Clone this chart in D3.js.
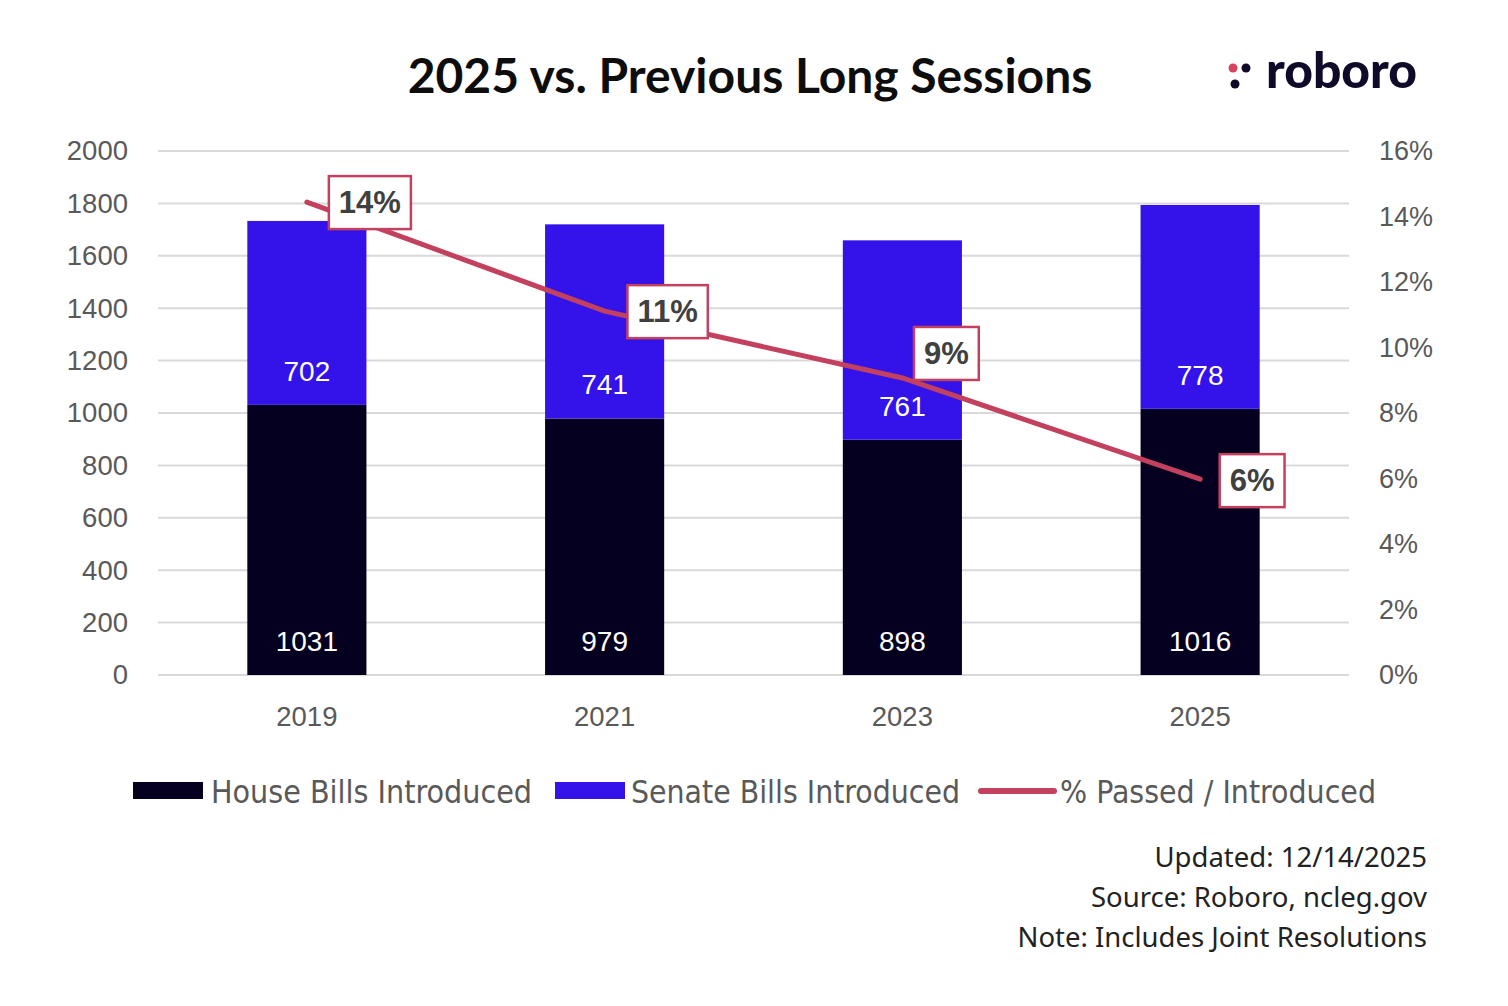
<!DOCTYPE html>
<html><head><meta charset="utf-8">
<script src="https://cdn.jsdelivr.net/npm/d3@7"></script>
<style>
html,body{margin:0;padding:0;background:#fff;}
svg{display:block;}
</style></head>
<body>
<svg id="chart" width="1508" height="1006"></svg>
<script>
const years = ["2019", "2021", "2023", "2025"];
const houseBills = [1031, 979, 898, 1016];
const senateBills = [702, 741, 761, 778];
const pctPassed = [0.1444, 0.1111, 0.0907, 0.0598];
const pctLabels = ["14%", "11%", "9%", "6%"];
const leftTicks = [0, 200, 400, 600, 800, 1000, 1200, 1400, 1600, 1800, 2000];
const rightTicks = [0, 0.02, 0.04, 0.06, 0.08, 0.10, 0.12, 0.14, 0.16];
const legendLabels = ["House Bills Introduced", "Senate Bills Introduced", "% Passed / Introduced"];
const footLines = ["Updated: 12/14/2025", "Source: Roboro, ncleg.gov", "Note: Includes Joint Resolutions"];

const C = {house:"#05001f", senate:"#3412ea", line:"#c4405f", grid:"#d9d9d9", axis:"#595959", label:"#404040"};
const svg = d3.select("#chart");
const m = {l:158, r:1349, t:151, b:675};

const x = d3.scaleBand().domain(years).range([m.l, m.r]).paddingInner(0.6).paddingOuter(0.3);
const y = d3.scaleLinear().domain([0, 2000]).range([m.b, m.t]);
const y2 = d3.scaleLinear().domain([0, 0.16]).range([m.b, m.t]);

// title
svg.append("text").attr("x", 750).attr("y", 93).attr("text-anchor","middle")
  .attr("font-family","Lato, 'Noto Sans', sans-serif").attr("font-weight",700)
  .attr("font-size",48).attr("fill","#0d0d0d").text("2025 vs. Previous Long Sessions");

// logo
const logo = svg.append("g");
logo.append("circle").attr("cx",1233).attr("cy",68).attr("r",4.5).attr("fill","#d8435f");
logo.append("circle").attr("cx",1246).attr("cy",68).attr("r",4.5).attr("fill","#0f0a2a");
logo.append("circle").attr("cx",1235).attr("cy",84).attr("r",4.5).attr("fill","#0f0a2a");
logo.append("text").attr("x",1266).attr("y",88)
  .attr("font-family","Lato, sans-serif").attr("font-weight",900).attr("font-size",50)
  .attr("textLength",151).attr("lengthAdjust","spacingAndGlyphs")
  .attr("fill","#0f0a2a").text("roboro");

// grid
svg.append("g").selectAll("line").data(leftTicks).join("line")
  .attr("x1", m.l).attr("x2", m.r).attr("y1", d=>y(d)).attr("y2", d=>y(d))
  .attr("stroke", C.grid).attr("stroke-width", 2);

const axFont = "'Liberation Sans', Arial, sans-serif";
// left axis
const leftAxis = svg.append("g").attr("transform",`translate(${m.l},0)`)
  .call(d3.axisLeft(y).tickValues(leftTicks).tickSize(0).tickPadding(30).tickFormat(d3.format("d")));
leftAxis.select(".domain").remove();
leftAxis.selectAll("text").attr("font-family",axFont).attr("font-size",27.5).attr("fill",C.axis);

// right axis
const rightAxis = svg.append("g").attr("transform",`translate(${m.r},0)`)
  .call(d3.axisRight(y2).tickValues(rightTicks).tickSize(0).tickPadding(30).tickFormat(d3.format(".0%")));
rightAxis.select(".domain").remove();
rightAxis.selectAll("text").attr("font-family",axFont).attr("font-size",27).attr("fill",C.axis);

// bottom axis
const bottomAxis = svg.append("g").attr("transform",`translate(0,${m.b})`)
  .call(d3.axisBottom(x).tickSize(0).tickPadding(31));
bottomAxis.select(".domain").remove();
bottomAxis.selectAll("text").attr("font-family",axFont).attr("font-size",27.5).attr("fill",C.axis);

// bars
const data = years.map((yr,i)=>({yr, h:houseBills[i], s:senateBills[i], p:pctPassed[i], pl:pctLabels[i]}));
const bars = svg.append("g");
bars.selectAll(".house").data(data).join("rect")
  .attr("x", d=>x(d.yr)).attr("width", x.bandwidth())
  .attr("y", d=>y(d.h)).attr("height", d=>y(0)-y(d.h)).attr("fill", C.house);
bars.selectAll(".senate").data(data).join("rect")
  .attr("x", d=>x(d.yr)).attr("width", x.bandwidth())
  .attr("y", d=>y(d.h+d.s)).attr("height", d=>y(d.h)-y(d.h+d.s)).attr("fill", C.senate);

// bar labels (inside base)
bars.selectAll(".hl").data(data).join("text")
  .attr("x", d=>x(d.yr)+x.bandwidth()/2).attr("y", d=>y(0)-34).attr("dy","0.35em")
  .attr("text-anchor","middle").attr("font-family",axFont).attr("font-size",28)
  .attr("fill","#fff").text(d=>d.h);
bars.selectAll(".sl").data(data).join("text")
  .attr("x", d=>x(d.yr)+x.bandwidth()/2).attr("y", d=>y(d.h)-34).attr("dy","0.35em")
  .attr("text-anchor","middle").attr("font-family",axFont).attr("font-size",28)
  .attr("fill","#fff").text(d=>d.s);

// line
const cx = d=>x(d.yr)+x.bandwidth()/2;
svg.append("path").datum(data)
  .attr("d", d3.line().x(cx).y(d=>y2(d.p)))
  .attr("fill","none").attr("stroke",C.line).attr("stroke-width",5).attr("stroke-linecap","round");

// pct labels
const offsets = [[63,0],[63,0],[44,-25],[52,1]];
const pg = svg.append("g");
data.forEach((d,i)=>{
  const g = pg.append("g").attr("transform",`translate(${cx(d)+offsets[i][0]},${y2(d.p)+offsets[i][1]})`);
  const t = g.append("text").attr("text-anchor","middle").attr("dy","0.36em")
    .attr("font-family",axFont).attr("font-weight",700).attr("font-size",31)
    .attr("fill",C.label).text(d.pl);
  const bb = t.node().getBBox();
  g.insert("rect","text").attr("x", bb.x-10).attr("y", -26).attr("width", bb.width+20).attr("height", 53)
    .attr("fill","#fff").attr("stroke",C.line).attr("stroke-width",2.5);
});

// legend
const lg = svg.append("g");
const legFont = "'Liberation Sans Narrow', 'DejaVu Sans Condensed', 'Liberation Sans', sans-serif";
const legItems = [
  {x:133, w:70, type:"rect", color:C.house, tx:211, len:321},
  {x:555, w:70, type:"rect", color:C.senate, tx:631, len:329},
  {x:981, w:73, type:"line", color:C.line, tx:1060, len:316}
];
legItems.forEach((it,i)=>{
  if(it.type==="rect"){
    lg.append("rect").attr("x",it.x).attr("y",782).attr("width",it.w).attr("height",17).attr("fill",it.color);
  } else {
    lg.append("line").attr("x1",it.x).attr("x2",it.x+it.w).attr("y1",791).attr("y2",791)
      .attr("stroke",it.color).attr("stroke-width",6).attr("stroke-linecap","round");
  }
  lg.append("text").attr("x",it.tx).attr("y",791).attr("dy","0.36em")
    .attr("font-family",legFont).attr("font-size",32).attr("fill",C.axis)
    .attr("textLength",it.len).attr("lengthAdjust","spacingAndGlyphs").text(legendLabels[i]);
});

// footnote
svg.append("g").selectAll("text").data(footLines).join("text")
  .attr("x",1427).attr("y",(d,i)=>867+i*40).attr("text-anchor","end")
  .attr("font-family","'Noto Sans', sans-serif").attr("font-size",27.5).attr("fill","#222")
  .text(d=>d);
</script>
</body></html>
